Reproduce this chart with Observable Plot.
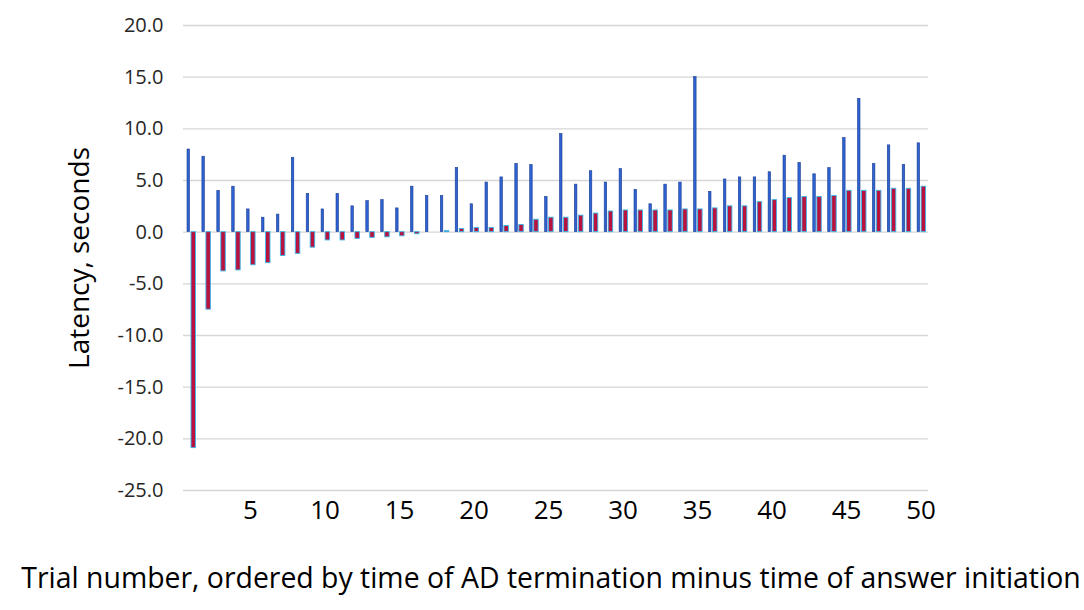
<!DOCTYPE html>
<html>
<head>
<meta charset="utf-8">
<script src="https://cdn.jsdelivr.net/npm/d3@7"></script>
<script src="https://cdn.jsdelivr.net/npm/@observablehq/plot@0.6"></script>
<style>
  html, body { margin: 0; padding: 0; background: #fff; }
</style>
</head>
<body>
<div id="chart"></div>
<script>
const trials = [1,2,3,4,5,6,7,8,9,10,11,12,13,14,15,16,17,18,19,20,21,22,23,24,25,26,27,28,29,30,31,32,33,34,35,36,37,38,39,40,41,42,43,44,45,46,47,48,49,50];
const blueValues = [8.0,7.3,4.0,4.4,2.2,1.4,1.7,7.2,3.7,2.2,
                    3.7,2.5,3.0,3.1,2.3,4.4,3.5,3.5,6.2,2.7,
                    4.8,5.3,6.6,6.5,3.4,9.5,4.6,5.9,4.8,6.1,
                    4.1,2.7,4.6,4.8,15.0,3.9,5.1,5.3,5.3,5.8,
                    7.4,6.7,5.6,6.2,9.1,12.9,6.6,8.4,6.5,8.6];
const redValues = [-20.9,-7.5,-3.8,-3.7,-3.2,-3.0,-2.3,-2.1,-1.5,-0.8,
                   -0.8,-0.65,-0.55,-0.5,-0.4,-0.2,0,0.1,0.3,0.4,
                   0.4,0.6,0.7,1.2,1.4,1.4,1.6,1.8,2.0,2.1,
                   2.1,2.1,2.1,2.2,2.2,2.3,2.5,2.5,2.9,3.1,
                   3.3,3.4,3.4,3.5,4.0,4.0,4.0,4.2,4.2,4.4];
const yTicks = [-25,-20,-15,-10,-5,0,5,10,15,20];
const xTickLabels = [5,10,15,20,25,30,35,40,45,50];
const yLabel = "Latency, seconds";
const xLabel = "Trial number, ordered by time of AD termination minus time of answer initiation";

const data = trials.map((t, i) => ({trial: t, blue: blueValues[i], red: redValues[i]}));

const chart = Plot.plot({
  width: 1084,
  height: 610,
  marginLeft: 183,
  marginRight: 156,
  marginTop: 25,
  marginBottom: 120,
  style: {fontFamily: "'Open Sans', sans-serif", background: "#fff", color: "#000"},
  x: {type: "band", domain: trials, padding: 0, label: null},
  y: {domain: [-25, 20], label: null},
  marks: [
    Plot.gridY(yTicks, {stroke: "#d6d6d6", strokeOpacity: 1, strokeWidth: 1.4}),
    Plot.barY(data, {x: "trial", y: "blue", insetLeft: 4, insetRight: 8.4,
      fill: "#2d62d2", stroke: "#1c3d8f", strokeWidth: 0.6}),
    Plot.barY(data, {x: "trial", y: "red", insetLeft: 8, insetRight: 2.4,
      fill: "#b8123f", stroke: "#3ab8ec", strokeWidth: 0.9}),
    Plot.axisY(yTicks, {tickSize: 0, tickPadding: 20, tickFormat: d => d.toFixed(1),
      fontSize: 20, fill: "#262626", label: null}),
    Plot.axisX(xTickLabels, {tickSize: 0, tickPadding: 10, fontSize: 26, fill: "#000", label: null}),
    Plot.text([yLabel], {frameAnchor: "left", rotate: -90, dx: -103, fontSize: 28,
      textAnchor: "middle", lineAnchor: "middle", fill: "#000"}),
    Plot.text([xLabel], {frameAnchor: "bottom", dy: 88, dx: -5, fontSize: 28.4,
      textAnchor: "middle", lineAnchor: "middle", fill: "#000"})
  ]
});
document.getElementById("chart").appendChild(chart);
</script>
</body>
</html>
